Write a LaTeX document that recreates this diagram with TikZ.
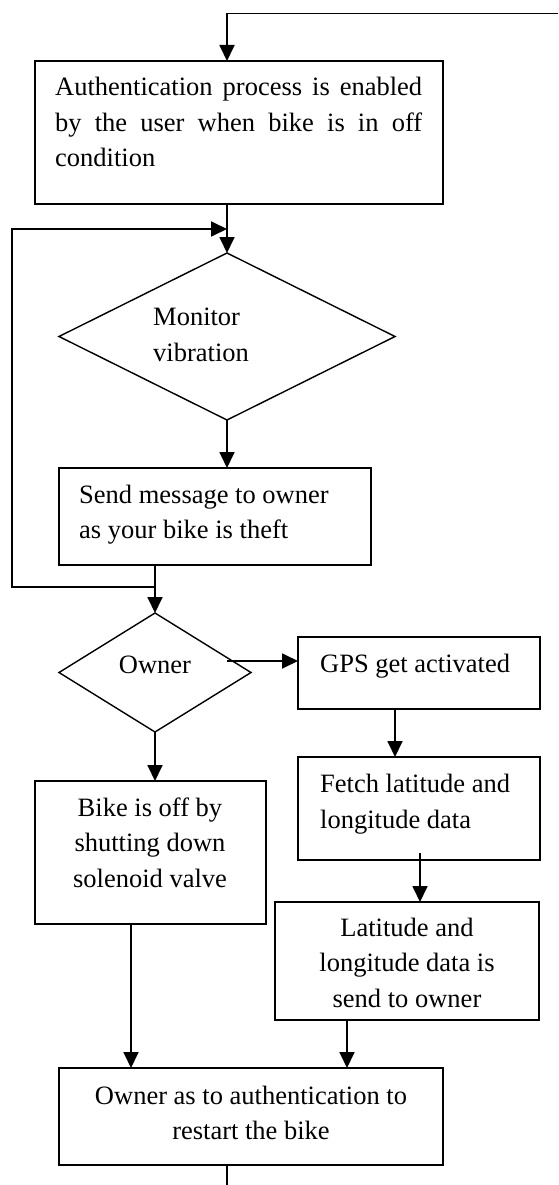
\documentclass[tikz,border=0pt]{standalone}
\usepackage{fontspec}
\setmainfont{Liberation Serif}
\usetikzlibrary{shapes.geometric,arrows.meta}
\newcommand\tfont{\fontsize{26.5}{35.5}\selectfont}
\begin{document}
\begin{tikzpicture}[x=1pt,y=-1pt,
 box/.style={draw,line width=1.5pt,rectangle,inner sep=0pt,outer sep=0pt,anchor=north west},
 dia/.style={draw,line width=1.4pt,diamond,inner sep=0pt,outer sep=0pt},
 conn/.style={line width=1.8pt},
 arr/.style={conn,-{Triangle[length=16pt,width=15pt]}},
 txt/.style={inner sep=0pt,font=\tfont}]
\fill[white] (0,0) rectangle (558,1185);
\useasboundingbox (0,0) rectangle (558,1185);

% boxes and decisions
\node[box,minimum width=408pt,minimum height=143pt] (b1) at (35,61) {};
\node[dia,minimum width=336pt,minimum height=167pt] (d1) at (227,336.5) {};
\node[box,minimum width=312pt,minimum height=97pt] (b2) at (59,468) {};
\node[dia,minimum width=192pt,minimum height=119pt] (d2) at (155,672.5) {};
\node[box,minimum width=242pt,minimum height=72pt] (b3) at (298,637) {};
\node[box,minimum width=242pt,minimum height=103pt] (b4) at (298,757) {};
\node[box,minimum width=231pt,minimum height=143pt] (b5) at (35,781) {};
\node[box,minimum width=264pt,minimum height=118pt] (b6) at (275,902) {};
\node[box,minimum width=384pt,minimum height=97pt] (b7) at (59,1068) {};

% texts
\node[txt,anchor=base west] (t1) at (55,96) {\parbox[t]{367pt}{\makebox[367pt][s]{Authentication process is enabled}\\\makebox[367pt][s]{by the user when bike is in off}\\condition}};
\node[txt,anchor=base west] (t2) at (153,325.5) {\parbox[t]{150pt}{Monitor\\vibration}};
\node[txt,anchor=base west] (t3) at (79,503) {\parbox[t]{290pt}{Send message to owner\\as your bike is theft}};
\node[txt,anchor=base] (t4) at (155,673) {Owner};
\node[txt,anchor=base west] (t5) at (320,672) {GPS get activated};
\node[txt,anchor=base west] (t6) at (320,792.5) {\parbox[t]{215pt}{Fetch latitude and\\longitude data}};
\node[txt,anchor=base] (t7) at (150,816) {\parbox[t]{220pt}{\centering Bike is off by\\shutting down\\solenoid valve}};
\node[txt,anchor=base] (t8) at (407,936) {\parbox[t]{250pt}{\centering Latitude and\\longitude data is\\send to owner}};
\node[txt,anchor=base] (t9) at (251,1104) {\parbox[t]{370pt}{\centering Owner as to authentication to\\restart the bike}};

% connectors
\coordinate (topR) at (558,13.5);
\coordinate (topL) at (227,13.5);
\draw[arr] (topR) -- (topL) -- (topL |- b1.north);
\draw[arr] (b1.south -| d1.north) -- (d1.north);
\coordinate (loopB) at (12,587);
\coordinate (loopT) at (12,229);
\draw[arr] (loopB -| d2.north) -- (loopB) -- (loopT) -- (loopT -| d1.north);
\draw[arr] (d1.south) -- (d1.south |- b2.north);
\draw[arr] (b2.south -| d2.north) -- (d2.north);
\coordinate (ow) at (227,661);
\draw[arr] (ow) -- (ow -| b3.west);
\coordinate (gx) at (395,0);
\draw[arr] (b3.south -| gx) -- (b4.north -| gx);
\coordinate (fx) at (420,853);
\draw[arr] (fx) -- (fx |- b6.north);
\draw[arr] (d2.south) -- (d2.south |- b5.north);
\coordinate (bx) at (131,0);
\draw[arr] (b5.south -| bx) -- (b7.north -| bx);
\coordinate (lx) at (347,0);
\draw[arr] (b6.south -| lx) -- (b7.north -| lx);
\coordinate (endB) at (227,1185);
\draw[conn] (b7.south -| endB) -- (endB);
\end{tikzpicture}
\end{document}
